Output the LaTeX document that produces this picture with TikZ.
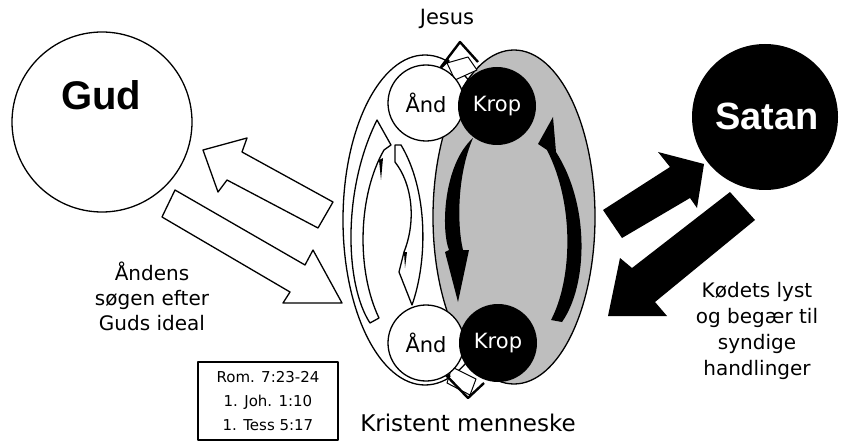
\documentclass[tikz,border=0pt]{standalone}
\usepackage{fontspec}
\setmainfont{DejaVu Sans}
\newfontfamily\headfont{Liberation Sans}
\definecolor{grayfill}{HTML}{BEBEBE}
\begin{document}
\begin{tikzpicture}[x=1pt,y=-1pt,line join=round,
  wa/.style={fill=white,draw=black,line width=1.3pt},
  ba/.style={fill=black},
  outl/.style={draw=black,line width=1.3pt},
  andc/.style={circle,draw=black,fill=white,line width=1.3pt,minimum size=76pt,inner sep=0pt,font=\fontsize{21}{24}\selectfont},
  kropc/.style={circle,fill=black,text=white,minimum size=78pt,inner sep=0pt,font=\fontsize{21}{24}\selectfont},
  bracket/.style={line width=2.4pt,line cap=butt},
  smalltxt/.style={align=center,font=\fontsize{20}{25}\selectfont,inner sep=0pt}]
\useasboundingbox (0,0) rectangle (841,441);
\fill[white] (0,0) rectangle (841,441);

% Gud and Satan
\node[circle,draw=black,line width=1.3pt,minimum size=180pt,inner sep=0pt] (gud) at (102,122) {};
\node[font=\headfont\bfseries\fontsize{40}{46}\selectfont,inner sep=0pt] (gudtxt) at (101,95) {Gud};
\node[circle,fill=black,minimum size=146pt,inner sep=0pt] (satan) at (765,117) {};
\node[font=\headfont\bfseries\fontsize{38}{44}\selectfont,text=white,inner sep=0pt] (satantxt) at (767,116) {Satan};

% person: outer white ellipse and grey ellipse
\draw[outl,fill=white] (425,220) ellipse [x radius=82, y radius=165];
\draw[outl,fill=grayfill] (514,217) ellipse [x radius=81, y radius=167];

% white curved arrows
\draw[wa] (370,323) .. controls (345,285) and (342,190) .. (377,120) -- (391,145) -- (384,150) .. controls (358,195) and (356,270) .. (379,318) -- cycle;
\fill (379,160) -- (383,158) -- (381,180) -- cycle;
\draw[wa] (395,145) -- (401,145) .. controls (428,190) and (428,260) .. (412,305) -- (399,272) -- (404,252) .. controls (416,222) and (413,185) .. (395,162) -- cycle;
\fill (404,252) -- (407,252) -- (405,268) -- cycle;

% black curved arrows
\fill[ba] (473,138) .. controls (443,165) and (441,230) .. (449,250) -- (445,252) -- (458,302) -- (469,250) -- (463,250) .. controls (457,225) and (457,175) .. (473,138) -- cycle;
\fill[ba] (551,320) .. controls (572,280) and (575,205) .. (547,150) -- (538,144) -- (553,117) -- (556,152) .. controls (590,205) and (588,285) .. (562,322) -- cycle;

% Jesus connectors
\draw[line width=1pt,fill=white] (447,63) -- (468,57) -- (477,70) -- (455,80) -- cycle;
\draw[bracket] (441,67) -- (460,42) -- (478,62);
\draw[bracket] (434,74) -- (449,60);
\draw[line width=1pt,fill=white] (452,367) -- (476,379) -- (470,395) -- (447,383) -- cycle;
\draw[bracket] (443,372) -- (468,398) -- (484,383);
\draw[bracket] (436,365) -- (450,377);

% Ånd / Krop circles
\node[andc] (and1) at (426,103) {Ånd};
\node[kropc] (krop1) at (497,106) {Krop};
\node[andc] (and2) at (426,343) {Ånd};
\node[kropc] (krop2) at (498,343) {Krop};

% Gud arrows (white)
\draw[wa] (203,150) -- (247,138) -- (242,152) -- (333,202) -- (318,228) -- (227,180) -- (218,192) -- cycle;
\draw[wa] (175,190) -- (305,265) -- (313,250) -- (342,303) -- (283,303) -- (290,292) -- (162,217) -- cycle;

% Satan arrows (black)
\fill[ba] (603,210) -- (670,167) -- (658,152) -- (704,164) -- (697,208) -- (690,198) -- (622,238) -- cycle;
\fill[ba] (730,192) -- (755,220) -- (655,302) -- (667,316) -- (608,316) -- (620,258) -- (632,268) -- cycle;

% texts
\node[font=\fontsize{21}{24}\selectfont,inner sep=0pt] (jesus) at (447,19) {Jesus};
\node[smalltxt] (andens) at (152,296) {Åndens\\søgen efter\\Guds ideal};
\node[smalltxt,font=\fontsize{20}{26}\selectfont] (kodets) at (757,331) {Kødets lyst\\og begær til\\syndige\\handlinger};
\node[draw=black,line width=1.3pt,minimum width=140pt,minimum height=78pt,align=center,inner sep=0pt,font=\fontsize{15}{24}\selectfont] (refs) at (268,401) {Rom. 7:23-24\\1. Joh. 1:10\\1. Tess 5:17};
\node[font=\fontsize{23}{26}\selectfont,inner sep=0pt] (kristent) at (468,423) {Kristent menneske};
\end{tikzpicture}
\end{document}
